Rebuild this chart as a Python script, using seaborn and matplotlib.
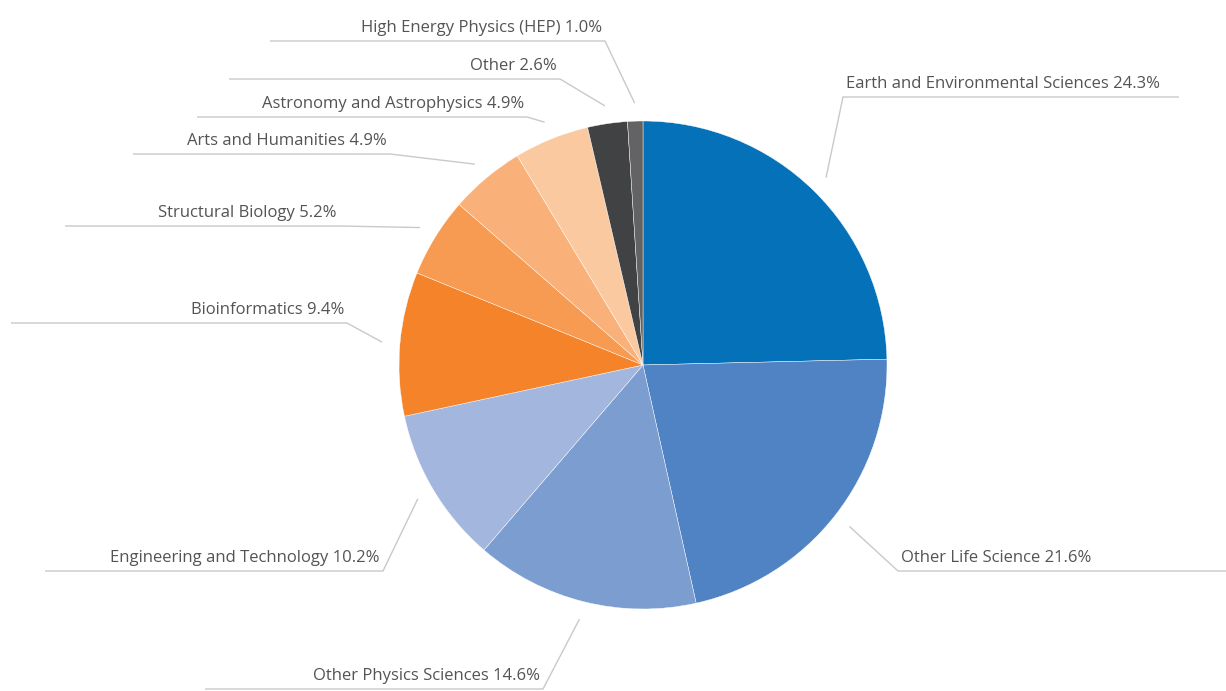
import numpy as np
import matplotlib
matplotlib.use("Agg")
import matplotlib.pyplot as plt
import seaborn as sns

# ---- data ----
categories = [
    "Earth and Environmental Sciences",
    "Other Life Science",
    "Other Physics Sciences",
    "Engineering and Technology",
    "Bioinformatics",
    "Structural Biology",
    "Arts and Humanities",
    "Astronomy and Astrophysics",
    "Other",
    "High Energy Physics (HEP)",
]
shares = [24.3, 21.6, 14.6, 10.2, 9.4, 5.2, 4.9, 4.9, 2.6, 1.0]
colors = ["#0571b9", "#5083c3", "#7b9dd0", "#a3b7de", "#f5832a",
          "#f79b52", "#f9b079", "#fbc9a0", "#414244", "#636365"]

# ---- layout (pixel coordinates, y from top) ----
W, H = 1226, 691
CX, CY, R = 643, 365, 244
label_side = ["r", "r", "l", "l", "l", "l", "l", "l", "l", "l"]
elbows = [(843, 97), (898, 571), (543, 689), (383, 571), (347, 323),
          (340, 226), (390, 154), (527, 117), (560, 79), (605, 41)]
line_ends = [1179, 1226, 205, 45, 11, 65, 133, 197, 229, 270]

sns.set_theme(style="white")
plt.rcParams["font.family"] = ["Open Sans", "DejaVu Sans"]

fig = plt.figure(figsize=(W / 100, H / 100), dpi=100)
ax = fig.add_axes([0, 0, 1, 1])

def py(y):
    return H - y

wedges, _ = ax.pie(shares, colors=colors, startangle=90, counterclock=False,
                   center=(CX, py(CY)), radius=R,
                   wedgeprops=dict(edgecolor="white", linewidth=0.3))
ax.set_xlim(0, W)
ax.set_ylim(0, H)
ax.set_aspect("equal")
ax.axis("off")

line_col = "#c9c9c9"
text_col = "#545454"
for w, cat, val, side, (ex, ey), xe in zip(wedges, categories, shares,
                                           label_side, elbows, line_ends):
    mid = np.deg2rad((w.theta1 + w.theta2) / 2)
    sx = CX + 262 * np.cos(mid)
    sy = py(CY) + 262 * np.sin(mid)
    ax.plot([sx, ex, xe], [sy, py(ey), py(ey)], color=line_col, lw=1,
            solid_capstyle="butt", zorder=1)
    label = f"{cat} {val:.1f}%"
    if side == "r":
        ax.text(ex + 3, py(ey) + 9, label, ha="left", va="baseline",
                fontsize=12, color=text_col)
    else:
        ax.text(ex - 3, py(ey) + 9, label, ha="right", va="baseline",
                fontsize=12, color=text_col)

fig.savefig("out.png", dpi=100, facecolor="white")
